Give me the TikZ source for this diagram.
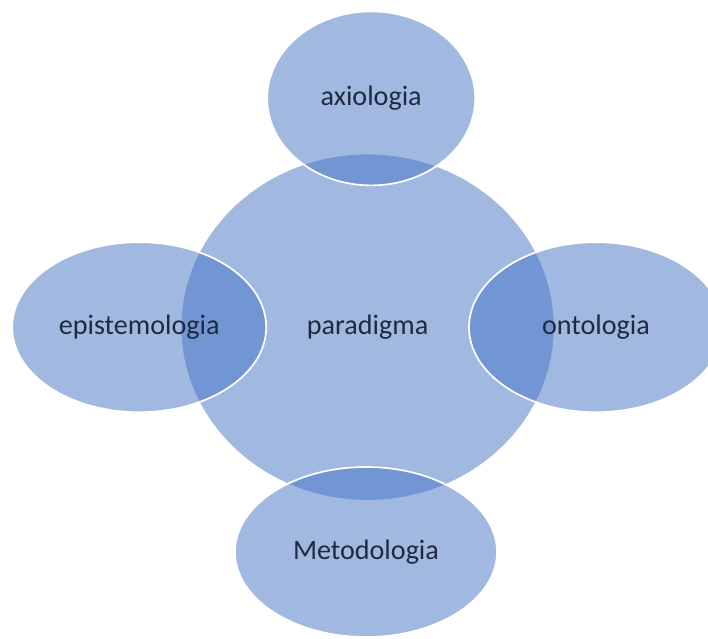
\documentclass[tikz,border=0pt]{standalone}
\usepackage{fontspec}
\setmainfont{Carlito}
\usetikzlibrary{shapes.geometric,positioning}
\definecolor{discblue}{HTML}{4472C4}
\definecolor{textnavy}{HTML}{1E2A40}

\begin{document}
\begin{tikzpicture}[font=\fontsize{20}{24}\selectfont]
  \tikzstyle{disc}=[ellipse,draw=white,line width=1.2pt,fill=discblue,
  		    fill opacity=0.5,text opacity=1,text=textnavy,inner sep=0pt]
  \tikzstyle{centre disc}=[disc,minimum width=9.35cm,minimum height=8.68cm]
  \tikzstyle{side disc}=[disc,minimum width=6.35cm,minimum height=4.25cm]

  \useasboundingbox (-9.19,-7.78) rectangle (8.51,8.18);

  \node [centre disc] (para) at (0,0) {paradigma};
  \node [disc,minimum width=5.2cm,minimum height=4.35cm] (axio) at (0.09,5.72) {axiologia};
  \node [side disc] (epist) at (-5.71,0) {epistemologia};
  \node [side disc] (onto) at (5.71,0) {ontologia};
  \node [side disc,minimum width=6.55cm] (meto) at (-0.04,-5.62) {Metodologia};

\end{tikzpicture}
\end{document}
